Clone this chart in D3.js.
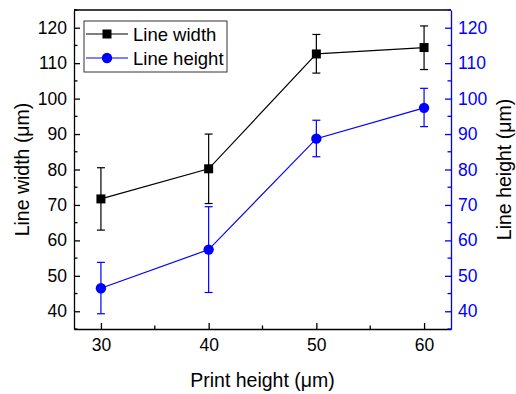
<!DOCTYPE html>
<html>
<head>
<meta charset="utf-8">
<script src="https://cdn.jsdelivr.net/npm/d3@7"></script>
<style>
  body { margin: 0; background: #fff; }
  text { font-family: "Liberation Sans", Arial, sans-serif; }
</style>
</head>
<body>
<script>
// Data
var printHeight = [30, 40, 50, 60];
var widthMean = [71.7, 80.2, 112.6, 114.4];
var widthErrTop = [80.5, 90.0, 118.1, 120.5];
var widthErrBot = [62.9, 70.4, 107.2, 108.2];
var heightMean = [46.5, 57.4, 88.7, 97.4];
var heightErrTop = [53.8, 69.5, 93.9, 102.9];
var heightErrBot = [39.3, 45.3, 83.6, 92.1];
var yTicks = [40, 50, 60, 70, 80, 90, 100, 110, 120];
var xTicks = [30, 40, 50, 60];

var W = 516, H = 394;
var margin = { top: 10, right: 65, bottom: 65, left: 74 };
var width = W - margin.left - margin.right,
    height = H - margin.top - margin.bottom;
var blue = "#0000ff";

var x = d3.scaleLinear().domain([27.5, 62.5]).range([0, width]);
var yL = d3.scaleLinear().domain([35, 125]).range([height, 0]);
var yR = d3.scaleLinear().domain([35, 125]).range([height, 0]);

var svg = d3.select("body").append("svg")
    .attr("width", W)
    .attr("height", H);

var g = svg.append("g")
    .attr("transform", "translate(" + margin.left + "," + margin.top + ")");

// top frame line
g.append("line")
    .attr("x1", 0).attr("x2", width)
    .attr("y1", 0).attr("y2", 0)
    .attr("stroke", "#000").attr("stroke-width", 1.3);

// Axes - ticks point inwards, minor ticks every 5
var minorX = [35, 45, 55];
var minorY = d3.range(35, 126, 10);

var xAxis = g.append("g")
    .attr("transform", "translate(0," + height + ")")
    .call(d3.axisBottom(x).tickValues(xTicks).tickSizeInner(-6).tickSizeOuter(0).tickPadding(10));
xAxis.append("g").selectAll("line").data(minorX).enter().append("line")
    .attr("x1", function(d) { return x(d); }).attr("x2", function(d) { return x(d); })
    .attr("y1", 0).attr("y2", -3.5).attr("stroke", "#000");

var yAxisL = g.append("g")
    .call(d3.axisLeft(yL).tickValues(yTicks).tickSizeInner(-6).tickSizeOuter(0).tickPadding(7));
yAxisL.append("g").selectAll("line").data(minorY).enter().append("line")
    .attr("y1", function(d) { return yL(d); }).attr("y2", function(d) { return yL(d); })
    .attr("x1", 0).attr("x2", 3.5).attr("stroke", "#000");

var yAxisR = g.append("g")
    .attr("transform", "translate(" + width + ",0)")
    .call(d3.axisRight(yR).tickValues(yTicks).tickSizeInner(-6).tickSizeOuter(0).tickPadding(7));
yAxisR.append("g").selectAll("line").data(minorY).enter().append("line")
    .attr("y1", function(d) { return yR(d); }).attr("y2", function(d) { return yR(d); })
    .attr("x1", 0).attr("x2", -3.5).attr("stroke", blue);

[xAxis, yAxisL].forEach(function(a) {
    a.selectAll("path, line").attr("stroke", "#000").attr("stroke-width", 1.3);
    a.selectAll("text").attr("fill", "#000").style("font-size", "17.5px");
});
yAxisR.selectAll("path, line").attr("stroke", blue).attr("stroke-width", 1.3);
yAxisR.selectAll("text").attr("fill", blue).style("font-size", "17.5px");

// Axis titles
svg.append("text")
    .attr("x", margin.left + x(45)).attr("y", 387)
    .attr("text-anchor", "middle")
    .style("font-size", "19.5px")
    .text("Print height (\u03bcm)");
svg.append("text")
    .attr("transform", "translate(29," + (margin.top + height / 2) + ") rotate(-90)")
    .attr("text-anchor", "middle")
    .style("font-size", "19.5px")
    .text("Line width (\u03bcm)");
svg.append("text")
    .attr("transform", "translate(511," + (margin.top + height / 2) + ") rotate(-90)")
    .attr("text-anchor", "middle")
    .style("font-size", "19.5px")
    .text("Line height (\u03bcm)");

// Series drawing helper
function drawSeries(means, tops, bots, y, color, shape) {
    var pts = printHeight.map(function(p, i) {
        return { x: p, m: means[i], t: tops[i], b: bots[i] };
    });
    var line = d3.line()
        .x(function(d) { return x(d.x); })
        .y(function(d) { return y(d.m); });
    g.append("path").datum(pts)
        .attr("d", line).attr("fill", "none")
        .attr("stroke", color).attr("stroke-width", 1.2);

    var eb = g.append("g").attr("stroke", color).attr("stroke-width", 1.2);
    eb.selectAll(".v").data(pts).enter().append("line")
        .attr("x1", function(d) { return x(d.x); }).attr("x2", function(d) { return x(d.x); })
        .attr("y1", function(d) { return y(d.t); }).attr("y2", function(d) { return y(d.b); });
    eb.selectAll(".ct").data(pts).enter().append("line")
        .attr("x1", function(d) { return x(d.x) - 4; }).attr("x2", function(d) { return x(d.x) + 4; })
        .attr("y1", function(d) { return y(d.t); }).attr("y2", function(d) { return y(d.t); });
    eb.selectAll(".cb").data(pts).enter().append("line")
        .attr("x1", function(d) { return x(d.x) - 4; }).attr("x2", function(d) { return x(d.x) + 4; })
        .attr("y1", function(d) { return y(d.b); }).attr("y2", function(d) { return y(d.b); });

    if (shape === "square") {
        g.selectAll(".sq").data(pts).enter().append("rect")
            .attr("x", function(d) { return x(d.x) - 4.5; })
            .attr("y", function(d) { return y(d.m) - 4.5; })
            .attr("width", 9).attr("height", 9)
            .attr("fill", color);
    } else {
        g.selectAll(".ci").data(pts).enter().append("circle")
            .attr("cx", function(d) { return x(d.x); })
            .attr("cy", function(d) { return y(d.m); })
            .attr("r", 5.2)
            .attr("fill", color);
    }
}

drawSeries(widthMean, widthErrTop, widthErrBot, yL, "#000", "square");
drawSeries(heightMean, heightErrTop, heightErrBot, yR, blue, "circle");

// Legend
var legend = svg.append("g").attr("transform", "translate(84,21)");
legend.append("rect")
    .attr("width", 143).attr("height", 51)
    .attr("fill", "#fff").attr("stroke", "#333").attr("stroke-width", 1);
var items = [
    { label: "Line width", color: "#000", shape: "square", y: 13 },
    { label: "Line height", color: blue, shape: "circle", y: 37 }
];
items.forEach(function(it) {
    legend.append("line")
        .attr("x1", 2).attr("x2", 44).attr("y1", it.y).attr("y2", it.y)
        .attr("stroke", it.color).attr("stroke-width", 1.2);
    if (it.shape === "square") {
        legend.append("rect").attr("x", 23 - 4.5).attr("y", it.y - 4.5)
            .attr("width", 9).attr("height", 9).attr("fill", it.color);
    } else {
        legend.append("circle").attr("cx", 23).attr("cy", it.y).attr("r", 5.2).attr("fill", it.color);
    }
    legend.append("text")
        .attr("x", 49).attr("y", it.y).attr("dy", "0.36em")
        .style("font-size", "18.5px")
        .text(it.label);
});
</script>
</body>
</html>
